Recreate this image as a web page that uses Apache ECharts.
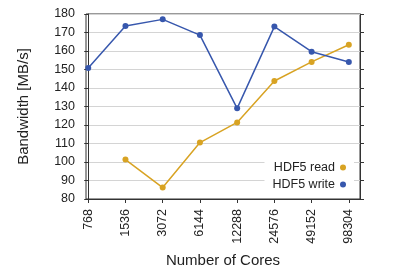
<!DOCTYPE html>
<html>
<head>
<meta charset="utf-8">
<script src="https://cdn.jsdelivr.net/npm/echarts@6/dist/echarts.min.js"></script>
<style>html,body{margin:0;padding:0;background:#fff}#c{width:398px;height:272px}</style>
</head>
<body>
<div id="c"></div>
<script>
const categories = ['768', '1536', '3072', '6144', '12288', '24576', '49152', '98304'];
const readValues = [null, 101.3, 86.2, 110.5, 121.4, 143.8, 154.1, 163.4];
const writeValues = [150.8, 173.5, 177.1, 168.6, 129.0, 173.2, 159.6, 154.1];
const yTicks = [80, 90, 100, 110, 120, 130, 140, 150, 160, 170, 180];

const idx = categories.map((_, i) => i);
const toPairs = vals => vals.map((v, i) => [i, v]);
const font = 'Liberation Sans, Arial, sans-serif';

const chart = echarts.init(document.getElementById('c'), null, {renderer: 'canvas'});
chart.setOption({
  animation: false,
  backgroundColor: '#fff',
  textStyle: {fontFamily: font},
  grid: {left: 86, right: 38, top: 14, bottom: 73, show: true, borderColor: '#333', borderWidth: 1,
    containLabel: false, outerBoundsMode: 'none'},
  xAxis: {
    type: 'value', min: -0.06, max: 7.3,
    name: 'Number of Cores', nameLocation: 'middle', nameGap: 54,
    nameTextStyle: {fontSize: 15, color: '#222', fontFamily: font},
    axisLine: {show: true, lineStyle: {color: '#333'}},
    axisTick: {show: true, length: 4, lineStyle: {color: '#333'}, customValues: idx},
    axisLabel: {rotate: 90, fontSize: 12.5, color: '#222', margin: 10, fontFamily: font,
      customValues: idx, formatter: v => categories[Math.round(v)]},
    splitLine: {show: false}
  },
  yAxis: [{
    type: 'value', min: yTicks[0], max: yTicks[yTicks.length - 1], interval: 10,
    name: 'Bandwidth [MB/s]', nameLocation: 'middle', nameGap: 55,
    nameTextStyle: {fontSize: 15, color: '#222', fontFamily: font},
    axisLine: {show: true, lineStyle: {color: '#333'}},
    axisTick: {show: true, length: 4, lineStyle: {color: '#333'}},
    axisLabel: {fontSize: 12.5, color: '#222', margin: 11, fontFamily: font},
    splitLine: {show: true, lineStyle: {color: '#d4d4d4', width: 1}}
  }, {
    type: 'value', min: yTicks[0], max: yTicks[yTicks.length - 1], interval: 10, position: 'right',
    axisLine: {show: true, lineStyle: {color: '#333'}},
    axisTick: {show: true, length: 4, lineStyle: {color: '#333'}},
    axisLabel: {show: false},
    splitLine: {show: false}
  }],
  legend: {
    orient: 'vertical', right: 44, top: 154, align: 'right',
    backgroundColor: '#fff', padding: [7, 8, 6, 8], itemGap: 4,
    itemWidth: 6, itemHeight: 6, icon: 'circle',
    textStyle: {fontSize: 12.5, color: '#222', fontFamily: font},
    data: ['HDF5 read', 'HDF5 write']
  },
  series: [{
    name: 'HDF5 read', type: 'line', data: toPairs(readValues),
    color: '#d8a323', symbol: 'circle', symbolSize: 6,
    lineStyle: {width: 1.5}, connectNulls: false
  }, {
    name: 'HDF5 write', type: 'line', data: toPairs(writeValues),
    color: '#3757ad', symbol: 'circle', symbolSize: 6,
    lineStyle: {width: 1.5}
  }]
});
</script>
</body>
</html>
